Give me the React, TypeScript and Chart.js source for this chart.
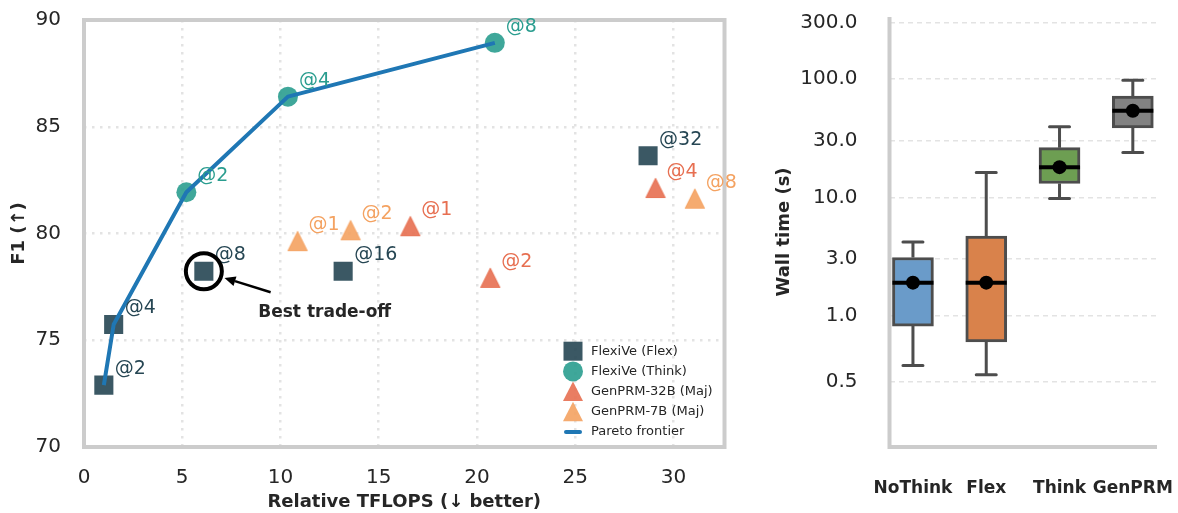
import React, { useEffect, useRef } from 'react';
import { Chart, registerables, LinearScale } from 'chart.js';

Chart.register(...registerables);

// ---------------- Left panel data ----------------
const flexX = [1.01, 1.51, 6.1, 13.19, 28.71];
const flexY = [72.9, 75.74, 78.23, 78.23, 83.64];
const flexLabels = ['@2', '@4', '@8', '@16', '@32'];

const thinkX = [5.21, 10.38, 20.91];
const thinkY = [81.93, 86.41, 88.93];
const thinkLabels = ['@2', '@4', '@8'];

const gen32X = [16.61, 20.68, 29.09];
const gen32Y = [80.34, 77.92, 82.13];
const gen32Labels = ['@1', '@2', '@4'];

const gen7X = [10.87, 13.57, 31.09];
const gen7Y = [79.64, 80.15, 81.63];
const gen7Labels = ['@1', '@2', '@8'];

const paretoX = [1.01, 1.51, 5.21, 10.38, 20.91];
const paretoY = [72.9, 75.74, 81.93, 86.41, 88.93];

const tflopsTicks = [0, 5, 10, 15, 20, 25, 30];
const f1Ticks = [70, 75, 80, 85, 90];

// ---------------- Right panel data ----------------
const methods = ['NoThink', 'Flex', 'Think', 'GenPRM'];
const wallMin = [0.62, 0.55, 9.8, 24];
const wallQ1 = [0.92, 0.8, 13.1, 38.7];
const wallMedian = [1.9, 1.9, 18, 54];
const wallQ3 = [3.1, 4.7, 26.3, 72];
const wallMax = [4.2, 16.2, 39.5, 98];
const wallMean = [1.9, 1.9, 18, 54];
const wallTicks = [0.5, 1, 3, 10, 30, 100, 300];

// ---------------- Styles ----------------
const FONT = '"DejaVu Sans", sans-serif';
const TEXT = '#262626';
const FLEX_FILL = 'rgba(38,70,83,0.9)';
const FLEX_TXT = '#264653';
const THINK_FILL = 'rgba(42,157,143,0.9)';
const THINK_TXT = '#2a9d8f';
const G32_FILL = 'rgba(231,111,81,0.9)';
const G32_TXT = '#e76f51';
const G7_FILL = 'rgba(244,162,97,0.9)';
const G7_TXT = '#f4a261';
const PARETO = '#1f77b4';
const SPINE = '#cccccc';
const BOX_COLORS = ['#6a9bc9', '#d9824b', '#6d9e52', '#828282'];
const BOX_EDGE = '#4d4d4d';

// ---------------- symlog scale (linthresh 1, base 10) ----------------
const LINSCALE = 1 / (1 - 1 / 10);
const symT = (v: number) => (v <= 1 ? v * LINSCALE : LINSCALE + Math.log10(v));
const symInv = (t: number) => (t <= LINSCALE ? t / LINSCALE : Math.pow(10, t - LINSCALE));

class SymlogScale extends LinearScale {
  static id = 'symlog';
  static defaults = LinearScale.defaults;
  determineDataLimits() {
    const o: any = (this as any).options;
    (this as any).min = o.min;
    (this as any).max = o.max;
  }
  buildTicks() {
    return wallTicks.map((v) => ({ value: v }));
  }
  getPixelForValue(value: number) {
    const t0 = symT((this as any).min);
    const t1 = symT((this as any).max);
    return (this as any).getPixelForDecimal((symT(value) - t0) / (t1 - t0));
  }
  getValueForPixel(pixel: number) {
    const t0 = symT((this as any).min);
    const t1 = symT((this as any).max);
    return symInv(t0 + (this as any).getDecimalForPixel(pixel) * (t1 - t0));
  }
}
Chart.register(SymlogScale as any);

function makeTriangle(color: string) {
  const c = document.createElement('canvas');
  c.width = 22;
  c.height = 22;
  const g = c.getContext('2d')!;
  g.fillStyle = color;
  g.strokeStyle = color;
  g.lineWidth = 1.2;
  g.lineJoin = 'round';
  g.beginPath();
  g.moveTo(11, 1.5);
  g.lineTo(20.5, 20.5);
  g.lineTo(1.5, 20.5);
  g.closePath();
  g.fill();
  g.stroke();
  return c;
}

const pts = (xs: number[], ys: number[]) => xs.map((x, i) => ({ x, y: ys[i] }));

const fixSize = (prop: 'width' | 'height', size: number) => (s: any) => {
  s[prop] = size;
  s.paddingTop = 0;
  s.paddingBottom = 0;
  s.paddingLeft = 0;
  s.paddingRight = 0;
};

export default function App() {
  const leftRef = useRef<HTMLCanvasElement>(null);
  const rightRef = useRef<HTMLCanvasElement>(null);

  useEffect(() => {
    const tri32 = makeTriangle(G32_FILL);
    const tri7 = makeTriangle(G7_FILL);

    const pointLabelPlugin = {
      id: 'pointLabels',
      afterDatasetsDraw(chart: any) {
        const ctx = chart.ctx;
        chart.data.datasets.forEach((ds: any, di: number) => {
          if (!ds.pointLabels) return;
          const meta = chart.getDatasetMeta(di);
          ctx.save();
          ctx.font = `19px ${FONT}`;
          ctx.fillStyle = ds.labelColor;
          ctx.textAlign = 'left';
          ctx.textBaseline = 'middle';
          meta.data.forEach((pt: any, i: number) => {
            ctx.fillText(ds.pointLabels[i], pt.x + 11, pt.y - 16);
          });
          ctx.restore();
        });
      },
    };

    const framePlugin = {
      id: 'frame',
      beforeDatasetsDraw(chart: any) {
        const { ctx, chartArea: a } = chart;
        ctx.save();
        ctx.strokeStyle = SPINE;
        ctx.lineWidth = 4;
        ctx.strokeRect(a.left, a.top, a.right - a.left, a.bottom - a.top);
        ctx.restore();
      },
    };

    const annotationPlugin = {
      id: 'bestTradeoff',
      afterDraw(chart: any) {
        const { ctx, scales } = chart;
        const flexMeta = chart.getDatasetMeta(1);
        const p = flexMeta.data[2];
        ctx.save();
        ctx.strokeStyle = '#000';
        ctx.lineWidth = 4;
        ctx.beginPath();
        ctx.arc(p.x, p.y, 18, 0, Math.PI * 2);
        ctx.stroke();
        const tx = scales.x.getPixelForValue(9.5);
        const ty = scales.y.getPixelForValue(77.25);
        const hx = scales.x.getPixelForValue(7.15);
        const hy = scales.y.getPixelForValue(77.92);
        const ang = Math.atan2(hy - ty, hx - tx);
        const hl = 11;
        const hw = 5;
        const bx = hx - Math.cos(ang) * hl;
        const by = hy - Math.sin(ang) * hl;
        ctx.lineWidth = 2.5;
        ctx.beginPath();
        ctx.moveTo(tx, ty);
        ctx.lineTo(bx, by);
        ctx.stroke();
        ctx.fillStyle = '#000';
        ctx.beginPath();
        ctx.moveTo(hx, hy);
        ctx.lineTo(bx - Math.sin(ang) * hw, by + Math.cos(ang) * hw);
        ctx.lineTo(bx + Math.sin(ang) * hw, by - Math.cos(ang) * hw);
        ctx.closePath();
        ctx.fill();
        ctx.fillStyle = TEXT;
        ctx.font = `bold 17px ${FONT}`;
        ctx.textAlign = 'center';
        ctx.textBaseline = 'middle';
        ctx.fillText('Best trade-off', scales.x.getPixelForValue(12.25), scales.y.getPixelForValue(76.3));
        ctx.restore();
      },
    };

    const legendItems = [
      { label: 'FlexiVe (Flex)', kind: 'rect', color: FLEX_FILL },
      { label: 'FlexiVe (Think)', kind: 'circle', color: THINK_FILL },
      { label: 'GenPRM-32B (Maj)', kind: 'tri', color: G32_FILL },
      { label: 'GenPRM-7B (Maj)', kind: 'tri', color: G7_FILL },
      { label: 'Pareto frontier', kind: 'line', color: PARETO },
    ];

    const legendPlugin = {
      id: 'innerLegend',
      afterDraw(chart: any) {
        const { ctx, chartArea: a } = chart;
        const mx = a.right - 151.5;
        const n = legendItems.length;
        ctx.save();
        ctx.font = `13px ${FONT}`;
        ctx.textAlign = 'left';
        ctx.textBaseline = 'middle';
        legendItems.forEach((it, i) => {
          const y = a.bottom - 15 - (n - 1 - i) * 20.2;
          ctx.fillStyle = it.color;
          if (it.kind === 'rect') {
            ctx.fillRect(mx - 9.5, y - 9.5, 19, 19);
          } else if (it.kind === 'circle') {
            ctx.beginPath();
            ctx.arc(mx, y, 10, 0, Math.PI * 2);
            ctx.fill();
          } else if (it.kind === 'tri') {
            ctx.beginPath();
            ctx.moveTo(mx, y - 10);
            ctx.lineTo(mx + 10, y + 9.5);
            ctx.lineTo(mx - 10, y + 9.5);
            ctx.closePath();
            ctx.fill();
          } else {
            ctx.strokeStyle = it.color;
            ctx.lineWidth = 4;
            ctx.lineCap = 'round';
            ctx.beginPath();
            ctx.moveTo(mx - 7, y);
            ctx.lineTo(mx + 7, y);
            ctx.stroke();
          }
          ctx.fillStyle = TEXT;
          ctx.fillText(it.label, mx + 18, y);
        });
        ctx.restore();
      },
    };

    const left = new Chart(leftRef.current!, {
      type: 'scatter',
      data: {
        datasets: [
          {
            label: 'Pareto frontier',
            data: pts(paretoX, paretoY),
            showLine: true,
            borderColor: PARETO,
            borderWidth: 4,
            borderJoinStyle: 'round',
            pointRadius: 0,
            tension: 0,
          } as any,
          {
            label: 'FlexiVe (Flex)',
            data: pts(flexX, flexY),
            pointStyle: 'rect',
            pointRadius: 13.5,
            backgroundColor: FLEX_FILL,
            borderWidth: 0,
            pointLabels: flexLabels,
            labelColor: FLEX_TXT,
          },
          {
            label: 'FlexiVe (Think)',
            data: pts(thinkX, thinkY),
            pointStyle: 'circle',
            pointRadius: 10,
            backgroundColor: THINK_FILL,
            borderWidth: 0,
            pointLabels: thinkLabels,
            labelColor: THINK_TXT,
          },
          {
            label: 'GenPRM-32B (Maj)',
            data: pts(gen32X, gen32Y),
            pointStyle: tri32,
            pointRadius: 10,
            backgroundColor: G32_FILL,
            borderWidth: 0,
            pointLabels: gen32Labels,
            labelColor: G32_TXT,
          },
          {
            label: 'GenPRM-7B (Maj)',
            data: pts(gen7X, gen7Y),
            pointStyle: tri7,
            pointRadius: 10,
            backgroundColor: G7_FILL,
            borderWidth: 0,
            pointLabels: gen7Labels,
            labelColor: G7_TXT,
          },
        ] as any,
      },
      options: {
        animation: false,
        responsive: false,
        devicePixelRatio: 1,
        events: [],
        layout: { padding: { left: 0, top: 20, right: 35.5, bottom: 0 } },
        plugins: { legend: { display: false }, tooltip: { enabled: false } },
        scales: {
          x: {
            type: 'linear',
            min: 0,
            max: 32.6,
            afterBuildTicks: (s: any) => {
              s.ticks = tflopsTicks.map((v) => ({ value: v }));
            },
            afterFit: fixSize('height', 66),
            ticks: { font: { family: FONT, size: 20 }, color: TEXT, padding: 19, maxRotation: 0 },
            grid: { color: '#e3e3e3', lineWidth: 2.5, drawTicks: false },
            border: { display: false, dash: [2.5, 5.5] },
            title: {
              display: true,
              text: 'Relative TFLOPS (↓ better)',
              font: { family: FONT, size: 18, weight: 'bold' },
              color: TEXT,
              padding: { top: 0, bottom: 0 },
            },
          },
          y: {
            type: 'linear',
            min: 70,
            max: 90,
            afterBuildTicks: (s: any) => {
              s.ticks = f1Ticks.map((v) => ({ value: v }));
            },
            afterFit: fixSize('width', 84),
            ticks: { font: { family: FONT, size: 20 }, color: TEXT, padding: 23 },
            grid: { color: '#e3e3e3', lineWidth: 2.5, drawTicks: false },
            border: { display: false, dash: [2.5, 5.5] },
            title: {
              display: true,
              text: 'F1 (↑)',
              font: { family: FONT, size: 18, weight: 'bold' },
              color: TEXT,
              padding: { top: 9, bottom: 0 },
            },
          },
        },
      } as any,
      plugins: [framePlugin, pointLabelPlugin, annotationPlugin, legendPlugin],
    });

    const spinePlugin = {
      id: 'spines',
      beforeDatasetsDraw(chart: any) {
        const { ctx, chartArea: a } = chart;
        ctx.save();
        ctx.strokeStyle = SPINE;
        ctx.lineWidth = 4;
        ctx.beginPath();
        ctx.moveTo(a.left, a.top);
        ctx.lineTo(a.left, a.bottom);
        ctx.lineTo(a.right, a.bottom);
        ctx.stroke();
        ctx.restore();
      },
    };

    const boxPlugin = {
      id: 'boxParts',
      afterDatasetDraw(chart: any, args: any) {
        if (args.meta.type !== 'bar') return;
        const { ctx } = chart;
        const ys = chart.scales.y;
        ctx.save();
        args.meta.data.forEach((bar: any, i: number) => {
          const x = bar.x;
          const w = bar.width;
          const pMin = ys.getPixelForValue(wallMin[i]);
          const pMax = ys.getPixelForValue(wallMax[i]);
          const pQ1 = ys.getPixelForValue(wallQ1[i]);
          const pQ3 = ys.getPixelForValue(wallQ3[i]);
          const pMed = ys.getPixelForValue(wallMedian[i]);
          ctx.strokeStyle = BOX_EDGE;
          ctx.lineWidth = 3;
          ctx.lineCap = 'butt';
          ctx.beginPath();
          ctx.moveTo(x, pQ3);
          ctx.lineTo(x, pMax);
          ctx.moveTo(x, pQ1);
          ctx.lineTo(x, pMin);
          ctx.stroke();
          ctx.lineCap = 'round';
          ctx.beginPath();
          ctx.moveTo(x - 10, pMax);
          ctx.lineTo(x + 10, pMax);
          ctx.moveTo(x - 10, pMin);
          ctx.lineTo(x + 10, pMin);
          ctx.stroke();
          ctx.strokeStyle = '#000';
          ctx.lineWidth = 4;
          ctx.lineCap = 'butt';
          ctx.beginPath();
          ctx.moveTo(x - w / 2, pMed);
          ctx.lineTo(x + w / 2, pMed);
          ctx.stroke();
        });
        ctx.restore();
      },
    };

    const right = new Chart(rightRef.current!, {
      type: 'bar',
      data: {
        datasets: [
          {
            type: 'scatter',
            label: 'mean',
            data: methods.map((_, i) => ({ x: i, y: wallMean[i] })),
            pointRadius: 7,
            backgroundColor: '#000',
            borderWidth: 0,
          },
          {
            type: 'bar',
            label: 'IQR',
            data: methods.map((_, i) => ({ x: i, y: [wallQ1[i], wallQ3[i]] })),
            backgroundColor: BOX_COLORS,
            borderColor: BOX_EDGE,
            borderWidth: 3,
            borderSkipped: false,
            barThickness: 41,
          },
        ] as any,
      },
      options: {
        animation: false,
        responsive: false,
        devicePixelRatio: 1,
        events: [],
        layout: { padding: { left: 0, top: 17, right: 21, bottom: 0 } },
        plugins: { legend: { display: false }, tooltip: { enabled: false } },
        scales: {
          x: {
            type: 'linear',
            offset: false,
            min: -0.32,
            max: 3.33,
            afterBuildTicks: (s: any) => {
              s.ticks = methods.map((_, i) => ({ value: i }));
            },
            afterFit: fixSize('height', 66),
            ticks: {
              callback: (v: any) => methods[Math.round(Number(v))],
              font: { family: FONT, size: 17, weight: 'bold' },
              color: TEXT,
              padding: 23,
              maxRotation: 0,
              autoSkip: false,
            },
            grid: { display: false, offset: false },
            border: { display: false },
          },
          y: {
            type: 'symlog',
            min: 0,
            max: 335,
            afterFit: fixSize('width', 129.5),
            ticks: {
              callback: (v: any) => Number(v).toFixed(1),
              font: { family: FONT, size: 20 },
              color: TEXT,
              padding: 32,
              autoSkip: false,
            },
            grid: { color: '#e3e3e3', lineWidth: 1.5, drawTicks: false },
            border: { display: false, dash: [5, 4] },
            title: {
              display: true,
              text: 'Wall time (s)',
              font: { family: FONT, size: 18, weight: 'bold' },
              color: TEXT,
              padding: { top: 14, bottom: 0 },
            },
          },
        },
      } as any,
      plugins: [spinePlugin, boxPlugin],
    });

    return () => {
      left.destroy();
      right.destroy();
    };
  }, []);

  return (
    <div style={{ position: 'absolute', left: 0, top: 0, width: 1178, height: 513, background: '#fff' }}>
      <canvas
        ref={leftRef}
        width={760}
        height={513}
        style={{ position: 'absolute', left: 0, top: 0, width: 760, height: 513 }}
      />
      <canvas
        ref={rightRef}
        width={418}
        height={513}
        style={{ position: 'absolute', left: 760, top: 0, width: 418, height: 513 }}
      />
    </div>
  );
}
